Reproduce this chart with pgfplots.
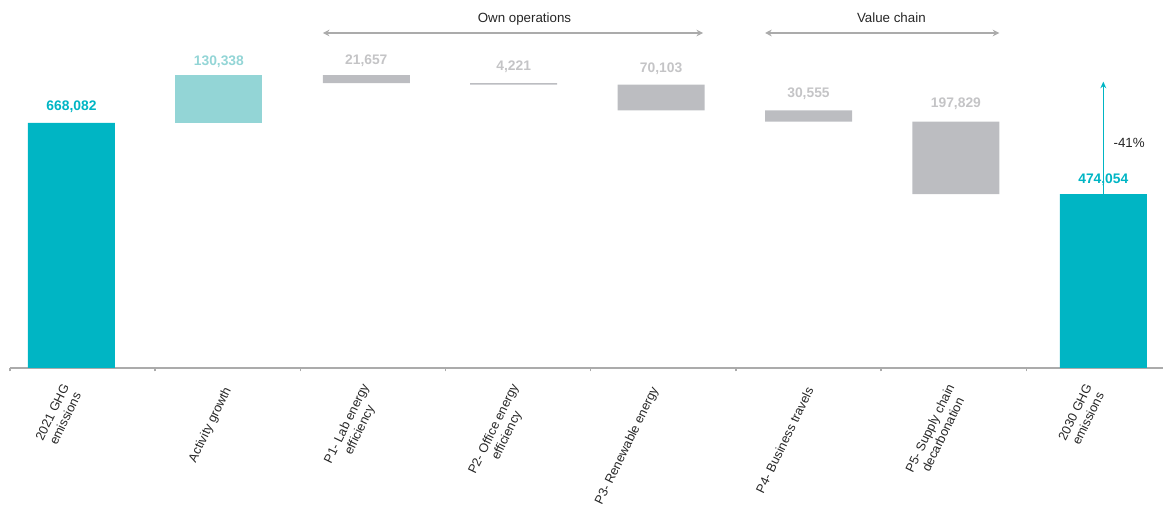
\documentclass[border=0pt]{standalone}
\usepackage{pgfplots}
\pgfplotsset{compat=1.18}
\usetikzlibrary{arrows.meta}
\usepackage{fontspec}
\setmainfont{Liberation Sans}
\definecolor{teal1}{HTML}{00B5C4}
\definecolor{teal2}{HTML}{93D5D6}
\definecolor{barg}{HTML}{BCBDC1}
\definecolor{labg}{HTML}{C4C4C6}
\definecolor{axg}{HTML}{ABABAB}
\definecolor{txt}{HTML}{262626}
\tikzset{vlab/.style={anchor=base, font=\fontsize{8.3}{10}\selectfont\bfseries}}
\begin{document}
\begin{tikzpicture}
\begin{axis}[
  scale only axis, width=691.8pt, height=220.8pt,
  xmin=-0.4171, xmax=7.405, ymin=0, ymax=1003500,
  axis x line*=bottom, axis y line=none,
  x axis line style={axg, line width=0.8pt},
  ybar stacked, bar width=52.2pt,
  clip=false,
  xtick={-0.081,0.980,1.959,2.973,3.878,4.925,5.925,6.858},
  xticklabels={{2021 GHG\\emissions},{Activity growth},{P1- Lab energy\\efficiency},{P2- Office energy\\efficiency},{P3- Renewable energy},{P4- Business travels},{P5- Supply chain\\decarbonation},{2030 GHG\\emissions}},
  major tick length=0pt,
  xticklabel style={xshift=9pt, yshift=-9pt, rotate=64, anchor=east, align=center, text=txt, font=\fontsize{7.6}{8.7}\selectfont},
  extra x ticks={-0.4171,0.5677,1.5526,2.5375,3.5224,4.5073,5.4922,6.4771},
  extra x tick labels={},
  extra x tick style={major tick length=2pt, tick align=outside, tick style={axg, line width=0.8pt}},
  ytick=\empty,
]
\addplot[draw=none, fill=none] coordinates {(0,0) (1,668082) (2,776763) (3,772542) (4,702439) (5,671884) (6,474055) (7,0)};
\addplot[fill=teal1, draw=none] coordinates {(0,668082) (1,0) (2,0) (3,0) (4,0) (5,0) (6,0) (7,474054)};
\addplot[fill=teal2, draw=none] coordinates {(0,0) (1,130338) (2,0) (3,0) (4,0) (5,0) (6,0) (7,0)};
\addplot[fill=barg, draw=none] coordinates {(0,0) (1,0) (2,21657) (3,4221) (4,70103) (5,30555) (6,197829) (7,0)};
% value labels
\node[vlab, text=teal1, yshift=7.6pt] at (axis cs:0,668082) {668,082};
\node[vlab, text=teal2, yshift=5.6pt] at (axis cs:1,798420) {130,338};
\node[vlab, text=labg, yshift=6.6pt] at (axis cs:2,798420) {21,657};
\node[vlab, text=labg, yshift=7.6pt] at (axis cs:3,776763) {4,221};
\node[vlab, text=labg, yshift=7.6pt] at (axis cs:4,772542) {70,103};
\node[vlab, text=labg, yshift=7.6pt] at (axis cs:5,702439) {30,555};
\node[vlab, text=labg, yshift=8.2pt] at (axis cs:6,671884) {197,829};
% annotations
\draw[teal1, line width=0.8pt, -{Stealth[length=4pt,width=3.5pt]}] (axis cs:7,474054) -- (axis cs:7,781000);
\node[vlab, text=teal1, yshift=6.6pt] at (axis cs:7,474054) {474,054};
\draw[axg, line width=0.8pt, {Stealth[length=4pt,width=4pt]}-{Stealth[length=4pt,width=4pt]}] (axis cs:1.705,913500) -- (axis cs:4.285,913500);
\draw[axg, line width=0.8pt, {Stealth[length=4pt,width=4pt]}-{Stealth[length=4pt,width=4pt]}] (axis cs:4.705,913500) -- (axis cs:6.295,913500);
\node[anchor=base, text=txt, font=\fontsize{8}{10}\selectfont] at (axis cs:3.073,940800) {Own operations};
\node[anchor=base, text=txt, font=\fontsize{8}{10}\selectfont] at (axis cs:5.562,940800) {Value chain};
\node[anchor=west, text=txt, font=\fontsize{8}{10}\selectfont] at (axis cs:7.03,613600) {-41\%};
\end{axis}
\pgfresetboundingbox
\path (-6pt,-85.8pt) rectangle (691.8pt,220.8pt);
\end{tikzpicture}
\end{document}
